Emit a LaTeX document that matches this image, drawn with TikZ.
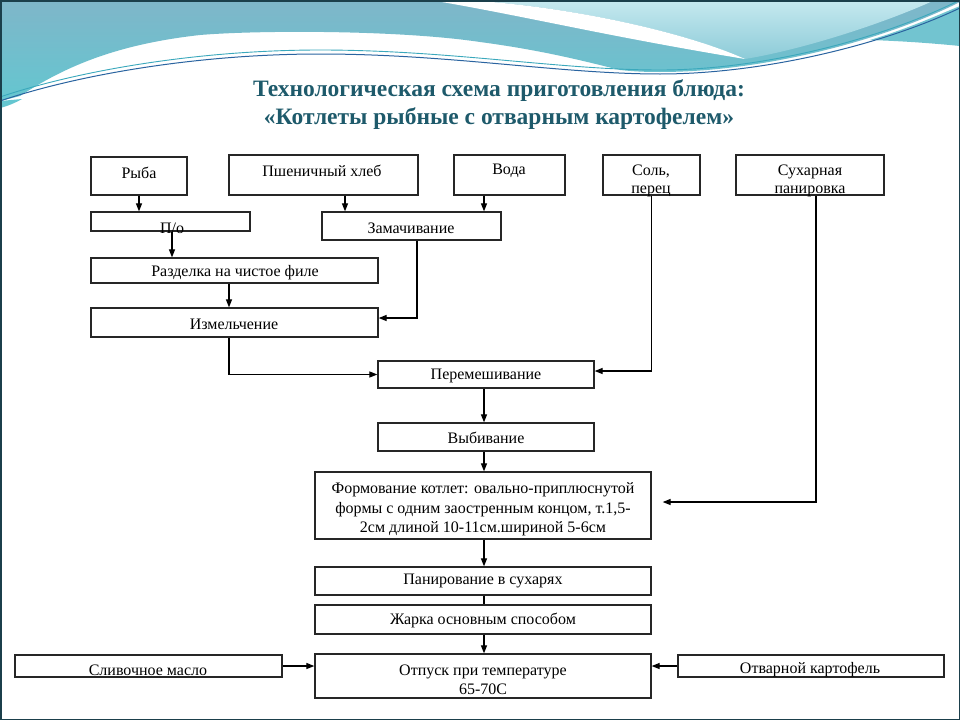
\documentclass[tikz,border=0pt]{standalone}
\usepackage{fontspec}
\setmainfont{Liberation Serif}
\usetikzlibrary{arrows.meta,calc}
\definecolor{ttl}{HTML}{1E5A6B}
\definecolor{frm}{HTML}{1B3F4B}
\definecolor{bandtop}{HTML}{7FB6C9}
\definecolor{bandbot}{HTML}{64C6D0}
\definecolor{rtop}{HTML}{C6E9EF}
\definecolor{rbot}{HTML}{8CCBD8}
\definecolor{wedge}{HTML}{72C4D0}
\definecolor{lineA}{HTML}{2A64A0}
\definecolor{lineB}{HTML}{3AA8BC}
\begin{document}
\begin{tikzpicture}[x=1pt,y=-1pt,
  box/.style={draw=black!85, line width=1.3pt, inner sep=0pt, fill=white},
  lbl/.style={inner sep=0pt, font=\fontsize{16}{18}\selectfont, align=center},
  arr/.style={line width=1.2pt, -{Triangle[length=8pt,width=6pt]}},
  ln/.style={line width=1.2pt}]
\useasboundingbox (0,0) rectangle (960,720);
\fill[white] (0,0) rectangle (960,720);
% ---- decoration ----
\shade[top color=bandtop, bottom color=bandbot]
  (0,0) -- (960,0) -- (960,2)
  .. controls (880,42) and (760,72) .. (660,72)
  .. controls (640,72) and (630,71) .. (620,70)
  .. controls (580,60) and (540,50) .. (480,42)
  .. controls (400,30) and (260,30) .. (200,35)
  .. controls (110,45) and (60,70) .. (20,96)
  -- (0,101) -- cycle;
\shade[top color=rtop, bottom color=rbot]
  (463,0) -- (935,0) .. controls (880,25) and (800,50) .. (745,59)
  .. controls (680,30) and (560,5) .. (463,0) -- cycle;
\fill[white] (430,0) -- (463,0) .. controls (560,5) and (680,30) .. (745,59)
  .. controls (600,35) and (520,15) .. (430,0) -- cycle;
\fill[wedge] (870,40) .. controls (910,28) and (940,14) .. (960,6) -- (960,46)
  .. controls (930,43) and (900,41) .. (870,40) -- cycle;
\fill[bandbot] (0,101) -- (0,108) .. controls (8,106) and (15,103) .. (22,99) -- cycle;
\draw[lineB, line width=0.9pt] (0,97) .. controls (80,70) and (200,50) .. (320,50)
  .. controls (450,50) and (560,70) .. (660,70) .. controls (760,70) and (880,40) .. (960,0);
\draw[lineA, line width=1pt] (0,101) .. controls (80,74) and (200,54) .. (320,54)
  .. controls (450,54) and (560,74) .. (660,74) .. controls (760,74) and (880,46) .. (960,8);
% ---- title ----
\node[inner sep=0pt, text=ttl, font=\fontsize{23.5}{28}\selectfont\bfseries, align=center]
  (title) at (499,105) {Технологическая схема приготовления блюда:\\«Котлеты рыбные с отварным картофелем»};
% ---- boxes ----
\node[box, minimum width=96pt,  minimum height=38pt] (ryba)  at (139,176) {};
\node[box, minimum width=189pt, minimum height=40pt] (hleb)  at (323.5,175) {};
\node[box, minimum width=111pt, minimum height=40pt] (voda)  at (509.5,175) {};
\node[box, minimum width=97pt,  minimum height=40pt] (sol)   at (651.5,175) {};
\node[box, minimum width=148pt, minimum height=40pt] (suhar) at (810,175) {};
\node[box, minimum width=159pt, minimum height=19pt] (po)    at (170.5,221.5) {};
\node[box, minimum width=179pt, minimum height=28pt] (zam)   at (411.5,226) {};
\node[box, minimum width=287pt, minimum height=25pt] (razd)  at (234.5,270.5) {};
\node[box, minimum width=287pt, minimum height=29pt] (izm)   at (234.5,322.5) {};
\node[box, minimum width=216pt, minimum height=27pt] (perem) at (486,374.5) {};
\node[box, minimum width=216pt, minimum height=28pt] (vyb)   at (486,437) {};
\node[box, minimum width=336pt, minimum height=67pt] (form)  at (483,505.5) {};
\node[box, minimum width=336pt, minimum height=28pt] (pan)   at (483,581) {};
\node[box, minimum width=336pt, minimum height=29pt] (zhar)  at (483,619.5) {};
\node[box, minimum width=336pt, minimum height=44pt] (otp)   at (483,676) {};
\node[box, minimum width=267pt, minimum height=22pt] (masl)  at (148.5,666) {};
\node[box, minimum width=266pt, minimum height=22pt] (kart)  at (811,666) {};
% ---- labels ----
\node[lbl] (t-ryba)  at (139,173) {Рыба};
\node[lbl] (t-hleb)  at (322,171) {Пшеничный хлеб};
\node[lbl] (t-voda)  at (509,171) {Вода};
\node[lbl] (t-sol)   at (651,181) {Соль,\\перец};
\node[lbl] (t-suhar) at (810,181) {Сухарная\\панировка};
\node[lbl] (t-po)    at (172,228) {П/о};
\node[lbl] (t-zam)   at (411,228) {Замачивание};
\node[lbl] (t-razd)  at (235,273) {Разделка на чистое филе};
\node[lbl] (t-izm)   at (234,324) {Измельчение};
\node[lbl] (t-perem) at (486,376) {Перемешивание};
\node[lbl] (t-vyb)   at (486,438) {Выбивание};
\node[lbl, font=\fontsize{16}{19.5}\selectfont] (t-form) at (483,509.5)
  {Формование котлет: овально-приплюснутой\\формы с одним заостренным концом, т.1,5-\\2см длиной 10-11см.шириной 5-6см};
\node[lbl] (t-pan)   at (483,581) {Панирование в сухарях};
\node[lbl] (t-zhar)  at (483,620) {Жарка основным способом};
\node[lbl, font=\fontsize{16}{19}\selectfont] (t-otp) at (483,679.5) {Отпуск при температуре\\65-70С};
\node[lbl] (t-masl)  at (148,670) {Сливочное масло};
\node[lbl] (t-kart)  at (810,670) {Отварной картофель};
% ---- connectors ----
\draw[arr] (ryba.south) -- (ryba.south |- po.north);
\draw[arr] ([xshift=1.5pt]po.south) -- ([xshift=1.5pt]po.south |- razd.north);
\draw[arr] ([xshift=21.5pt]hleb.south) -- ([xshift=21.5pt]hleb.south |- zam.north);
\draw[arr] ([xshift=-25.5pt]voda.south) -- ([xshift=-25.5pt]voda.south |- zam.north);
\draw[arr] ([xshift=5.5pt]zam.south) |- ([yshift=4.5pt]izm.east);
\draw[arr] ([xshift=-5.5pt]razd.south) -- ([xshift=-5.5pt]razd.south |- izm.north);
\draw[arr] ([xshift=-5.5pt]izm.south) |- (perem.west);
\draw[arr] (sol.south) |- ([yshift=3.5pt]perem.east);
\draw[arr] ([xshift=6pt]suhar.south) |- ([xshift=11pt,yshift=3.5pt]form.east);
\draw[arr] ([xshift=-2pt]perem.south) -- ([xshift=-2pt]perem.south |- vyb.north);
\draw[arr] ([xshift=-2pt]vyb.south) -- ([xshift=-2pt]vyb.south |- form.north);
\draw[arr] ([xshift=1pt]form.south) -- ([xshift=1pt]form.south |- pan.north);
\draw[ln]  ([xshift=1pt]pan.south) -- ([xshift=1pt]pan.south |- zhar.north);
\draw[arr] ([xshift=1pt]zhar.south) -- ([xshift=1pt]zhar.south |- otp.north);
\draw[arr] (masl.east) -- (masl.east -| otp.west);
\draw[arr] (kart.west) -- (kart.west -| otp.east);
% ---- frame ----
\draw[frm, line width=1.5pt] (0.75,0.75) rectangle (959.25,719.25);
\end{tikzpicture}
\end{document}
